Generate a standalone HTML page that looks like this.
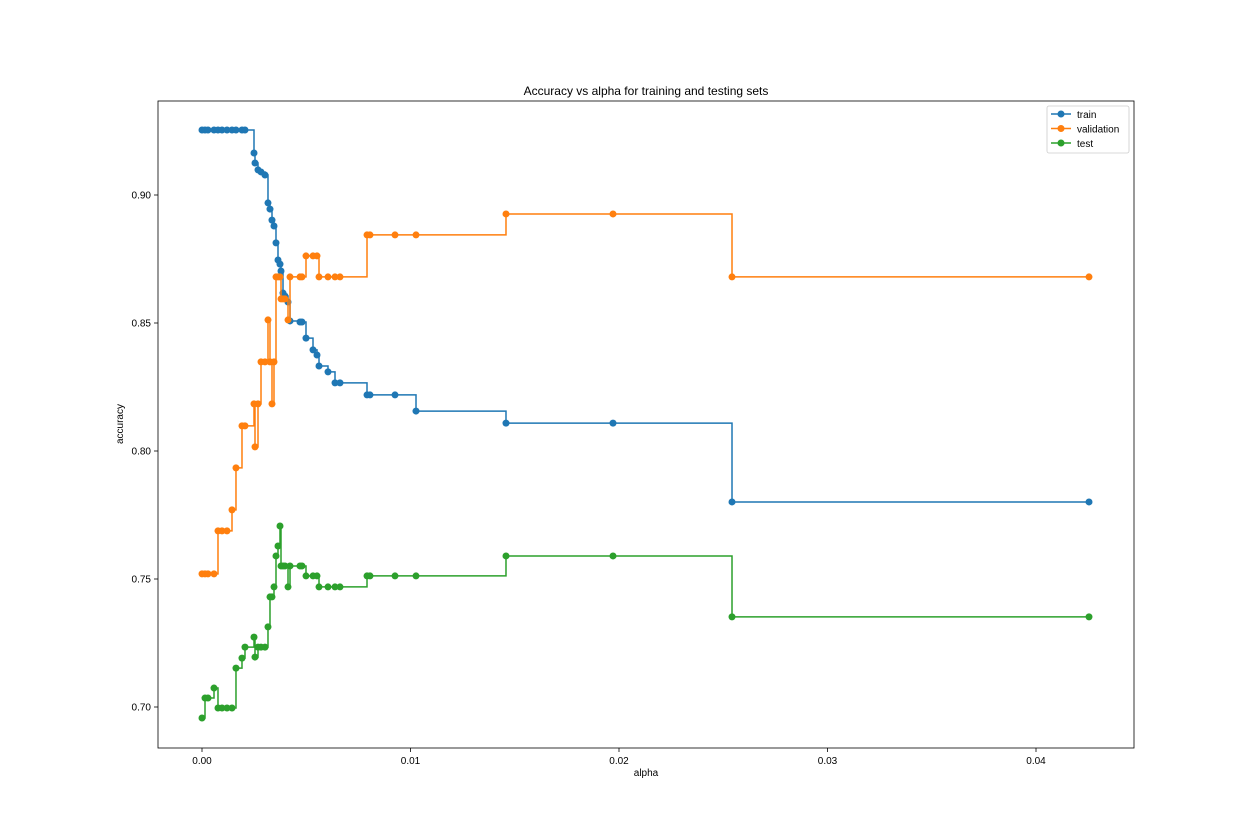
<!DOCTYPE html>
<html><head><meta charset="utf-8"><style>
body{margin:0;background:#fff;}
svg{display:block;font-family:"Liberation Sans","DejaVu Sans",sans-serif;}
</style></head><body>
<svg id="chart" width="1260" height="840" viewBox="0 0 1260 840" xmlns="http://www.w3.org/2000/svg">
<rect x="158" y="101" width="976" height="647" fill="#fff"/>
<text x="646" y="95" text-anchor="middle" font-size="12">Accuracy vs alpha for training and testing sets</text>
<text x="646" y="776" text-anchor="middle" font-size="10">alpha</text>
<text x="123" y="424" text-anchor="middle" font-size="10" transform="rotate(-90 123 424)">accuracy</text>
<g id="axes"></g>
<g id="series"></g>
<rect x="158" y="101" width="976" height="647" fill="none" stroke="#000" stroke-width="0.8"/>
<g>
<rect x="1047" y="106" width="82" height="47" rx="2" fill="#fff" fill-opacity="0.8" stroke="#ccc" stroke-width="0.8"/>
<g><line x1="1051" y1="114" x2="1071" y2="114" stroke="#1f77b4" stroke-width="1.5"/><circle cx="1061" cy="114" r="3.5" fill="#1f77b4"/><text x="1077" y="118" font-size="10">train</text></g>
<g><line x1="1051" y1="128.5" x2="1071" y2="128.5" stroke="#ff7f0e" stroke-width="1.5"/><circle cx="1061" cy="128.5" r="3.5" fill="#ff7f0e"/><text x="1077" y="132.5" font-size="10">validation</text></g>
<g><line x1="1051" y1="143" x2="1071" y2="143" stroke="#2ca02c" stroke-width="1.5"/><circle cx="1061" cy="143" r="3.5" fill="#2ca02c"/><text x="1077" y="147" font-size="10">test</text></g>
</g>
</svg>
<script>
const alphas=[0,0.000144,0.000288,0.000576,0.000767,0.000959,0.001199,0.001439,0.00163,0.001918,0.002062,0.002494,0.002542,0.002686,0.00283,0.003022,0.003165,0.003261,0.003357,0.003453,0.003549,0.003645,0.003741,0.003789,0.003885,0.003981,0.004125,0.004221,0.0047,0.004796,0.004988,0.005324,0.005516,0.005612,0.006043,0.006379,0.006619,0.007914,0.008058,0.009257,0.010264,0.01458,0.019712,0.02542,0.042542];
const trainAcc=[0.9254,0.9254,0.9254,0.9254,0.9254,0.9254,0.9254,0.9254,0.9254,0.9254,0.9254,0.9164,0.9125,0.9098,0.909,0.9078,0.8969,0.8945,0.8902,0.8879,0.8813,0.8746,0.873,0.8703,0.8617,0.8605,0.8582,0.8508,0.8504,0.8504,0.8441,0.8395,0.8375,0.8332,0.8309,0.8266,0.8266,0.8219,0.8219,0.8219,0.8156,0.8109,0.8109,0.7801,0.7801];
const valAcc=[0.752,0.752,0.752,0.752,0.7688,0.7688,0.7688,0.777,0.7934,0.8098,0.8098,0.8184,0.8016,0.8184,0.8348,0.8348,0.8512,0.8348,0.8184,0.8348,0.868,0.868,0.868,0.8594,0.8594,0.8594,0.8512,0.868,0.868,0.868,0.8762,0.8762,0.8762,0.868,0.868,0.868,0.868,0.8844,0.8844,0.8844,0.8844,0.8926,0.8926,0.868,0.868];
const testAcc=[0.6957,0.7035,0.7035,0.7074,0.6996,0.6996,0.6996,0.6996,0.7152,0.7191,0.7234,0.7273,0.7195,0.7234,0.7234,0.7234,0.7313,0.743,0.743,0.7469,0.759,0.7629,0.7707,0.7551,0.7551,0.7551,0.7469,0.7551,0.7551,0.7551,0.7512,0.7512,0.7512,0.7469,0.7469,0.7469,0.7469,0.7512,0.7512,0.7512,0.7512,0.759,0.759,0.7352,0.7352];
const xTicks=[0,0.01,0.02,0.03,0.04];
const xTickLabels=["0.00","0.01","0.02","0.03","0.04"];
const yTicks=[0.70,0.75,0.80,0.85,0.90];
const yTickLabels=["0.70","0.75","0.80","0.85","0.90"];

const NS="http://www.w3.org/2000/svg";
const xs=a=>202+a*20850;
const ys=v=>707-(v-0.7)*2560;
const axes=document.getElementById('axes');
const ser=document.getElementById('series');
function mk(tag,attrs,parent){const e=document.createElementNS(NS,tag);for(const k in attrs)e.setAttribute(k,attrs[k]);parent.appendChild(e);return e;}
xTicks.forEach((t,i)=>{
  const g=mk('g',{},axes);
  
  
  mk('line',{x1:xs(t),x2:xs(t),y1:748,y2:752,stroke:'#000','stroke-width':0.8},g);
  const tx=mk('text',{x:xs(t),y:764,'text-anchor':'middle','font-size':10},g);tx.textContent=xTickLabels[i];
});
yTicks.forEach((t,i)=>{
  const g=mk('g',{},axes);
  
  
  mk('line',{x1:154,x2:158,y1:ys(t),y2:ys(t),stroke:'#000','stroke-width':0.8},g);
  const tx=mk('text',{x:151,y:ys(t)+3.5,'text-anchor':'end','font-size':10},g);tx.textContent=yTickLabels[i];
});
function draw(vals,color,name){
  const g=mk('g',{},ser);
  
  
  let d='';
  vals.forEach((v,i)=>{
    const x=xs(alphas[i]),y=ys(v);
    if(i===0)d+='M'+x+' '+y;else d+=' H'+x+' V'+y;
  });
  const p=mk('path',{d:d,fill:'none',stroke:color,'stroke-width':1.5},g);
  
  
  vals.forEach((v,i)=>{
    const c=mk('circle',{cx:xs(alphas[i]),cy:ys(v),r:3.5,fill:color},g);
    
    
  });
}
draw(trainAcc,'#1f77b4','train-series');
draw(valAcc,'#ff7f0e','validation-series');
draw(testAcc,'#2ca02c','test-series');
</script>
</body></html>
